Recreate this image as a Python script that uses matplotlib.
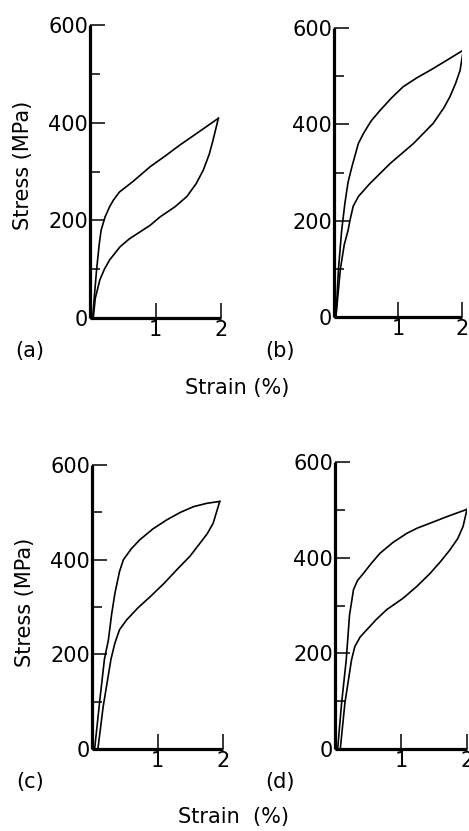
import matplotlib
matplotlib.use("Agg")
import matplotlib.pyplot as plt

# strain (%) / stress (MPa)
a_up_x = [0.04, 0.07, 0.10, 0.14, 0.17, 0.23, 0.30, 0.36, 0.45, 0.66, 0.92, 1.15, 1.37, 1.65, 1.96]
a_up_y = [0, 50, 98, 150, 180, 207, 228, 242, 258, 280, 310, 332, 354, 380, 409]
a_lo_x = [0.05, 0.08, 0.15, 0.22, 0.30, 0.46, 0.60, 0.76, 0.92, 1.07, 1.30, 1.48, 1.62, 1.73, 1.82, 1.88, 1.96]
a_lo_y = [0, 40, 78, 100, 119, 146, 162, 176, 190, 207, 228, 249, 275, 303, 335, 365, 409]

b_up_x = [0.03, 0.07, 0.12, 0.17, 0.22, 0.28, 0.38, 0.46, 0.58, 0.72, 0.90, 1.08, 1.30, 1.50, 1.75, 2.02]
b_up_y = [0, 100, 180, 236, 280, 312, 360, 381, 407, 429, 455, 478, 497, 512, 532, 554]
b_lo_x = [0.03, 0.10, 0.16, 0.22, 0.25, 0.30, 0.38, 0.56, 0.88, 1.24, 1.55, 1.72, 1.81, 1.90, 1.97, 2.02]
b_lo_y = [0, 100, 150, 180, 201, 230, 250, 277, 319, 360, 402, 435, 457, 485, 512, 554]

c_up_x = [0.04, 0.12, 0.19, 0.25, 0.30, 0.35, 0.42, 0.48, 0.60, 0.73, 0.93, 1.14, 1.35, 1.55, 1.75, 1.95]
c_up_y = [0, 104, 190, 230, 285, 329, 375, 400, 423, 442, 465, 484, 500, 512, 519, 523]
c_lo_x = [0.09, 0.17, 0.29, 0.35, 0.42, 0.53, 0.70, 0.89, 1.10, 1.29, 1.50, 1.65, 1.76, 1.85, 1.95]
c_lo_y = [0, 89, 190, 224, 252, 273, 298, 322, 350, 378, 408, 435, 455, 477, 523]

d_up_x = [0.04, 0.10, 0.17, 0.22, 0.28, 0.34, 0.43, 0.55, 0.68, 0.88, 1.09, 1.25, 1.44, 1.70, 2.00]
d_up_y = [0, 96, 186, 280, 333, 352, 367, 388, 409, 432, 451, 462, 472, 486, 501]
d_lo_x = [0.08, 0.15, 0.25, 0.30, 0.38, 0.48, 0.62, 0.78, 1.03, 1.24, 1.44, 1.60, 1.74, 1.86, 1.94, 2.00]
d_lo_y = [0, 96, 186, 214, 234, 249, 270, 291, 315, 340, 367, 392, 416, 440, 465, 501]

y_major = [0, 200, 400, 600]
y_minor = [100, 300, 500]
x_major = [1, 2]

plt.rcParams['font.family'] = ['DejaVu Sans']
fig = plt.figure(figsize=(4.69, 8.31), dpi=100)

boxes = [
    [90 / 469, 1 - 318 / 831, 131 / 469, 293 / 831],
    [334 / 469, 1 - 317 / 831, 128 / 469, 289 / 831],
    [92 / 469, 1 - 749 / 831, 131 / 469, 284 / 831],
    [335 / 469, 1 - 749 / 831, 132 / 469, 287 / 831],
]
loops = [
    (a_up_x, a_up_y, a_lo_x, a_lo_y),
    (b_up_x, b_up_y, b_lo_x, b_lo_y),
    (c_up_x, c_up_y, c_lo_x, c_lo_y),
    (d_up_x, d_up_y, d_lo_x, d_lo_y),
]

for box, (ux, uy, lx, ly) in zip(boxes, loops):
    ax = fig.add_axes(box)
    ax.plot(ux, uy, color='black', lw=1.2, solid_joinstyle='round')
    ax.plot(lx, ly, color='black', lw=1.2, solid_joinstyle='round')
    ax.set_xlim(0, 2)
    ax.set_ylim(0, 600)
    ax.spines['top'].set_visible(False)
    ax.spines['right'].set_visible(False)
    ax.spines['left'].set_linewidth(2.3)
    ax.spines['bottom'].set_linewidth(2.3)
    ax.set_yticks(y_major)
    ax.set_yticks(y_minor, minor=True)
    ax.set_xticks(x_major)
    ax.tick_params(direction='in', length=11, width=1.1, labelsize=15, pad=1.5)
    ax.tick_params(which='minor', direction='in', length=7, width=1.1)
    ax.patch.set_alpha(0)
    for sp in ax.spines.values():
        sp.set_capstyle('butt')

fs = 15
fig.text(23 / 469, 1 - 165 / 831, 'Stress (MPa)', rotation=90, ha='center', va='center', fontsize=fs)
fig.text(25 / 469, 1 - 602 / 831, 'Stress (MPa)', rotation=90, ha='center', va='center', fontsize=fs)
fig.text(30 / 469, 1 - 351 / 831, '(a)', ha='center', va='center', fontsize=fs)
fig.text(280 / 469, 1 - 351 / 831, '(b)', ha='center', va='center', fontsize=fs)
fig.text(30 / 469, 1 - 782 / 831, '(c)', ha='center', va='center', fontsize=fs)
fig.text(280 / 469, 1 - 782 / 831, '(d)', ha='center', va='center', fontsize=fs)
fig.text(237 / 469, 1 - 388 / 831, 'Strain (%)', ha='center', va='center', fontsize=fs)
fig.text(233 / 469, 1 - 817 / 831, 'Strain  (%)', ha='center', va='center', fontsize=fs)

plt.savefig('out.png', dpi=100)
plt.close()
